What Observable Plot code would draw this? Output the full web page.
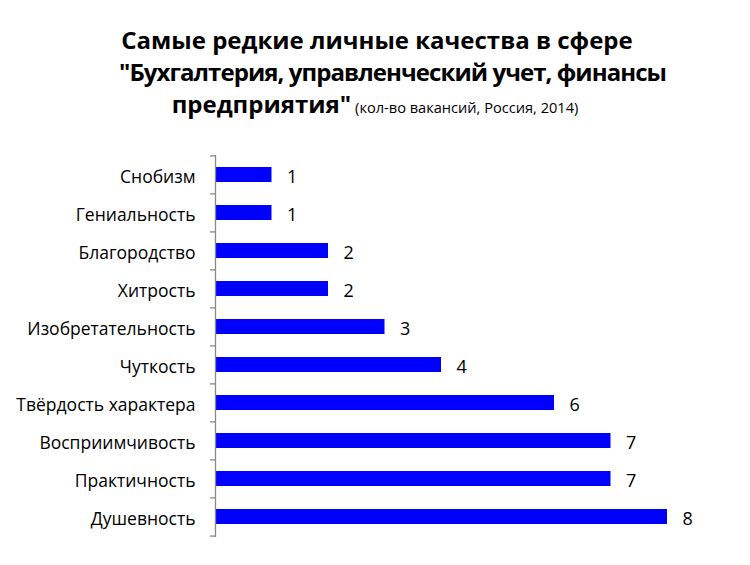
<!DOCTYPE html>
<html><head><meta charset="utf-8">
<script src="https://cdn.jsdelivr.net/npm/d3@7"></script>
<script src="https://cdn.jsdelivr.net/npm/@observablehq/plot@0.6"></script>
<style>
body{margin:0;background:#fff;}
#wrap{width:750px;height:565px;position:relative;}
#title{position:absolute;left:0;top:0;}
#chart{position:absolute;left:0;top:140px;}
</style></head>
<body>
<div id="wrap">
<svg id="title" width="750" height="140" font-family="Open Sans, sans-serif" fill="#000">
  <text x="377" y="49" text-anchor="middle" font-weight="bold" font-size="24">Самые редкие личные качества в сфере</text>
  <text x="393" y="81" text-anchor="middle" font-weight="bold" font-size="24" textLength="548" lengthAdjust="spacing">"Бухгалтерия, управленческий учет, финансы</text>
  <text x="375" y="113" text-anchor="middle"><tspan font-weight="bold" font-size="24">предприятия"</tspan><tspan font-size="14.6" dx="4">(кол-во вакансий, Россия, 2014)</tspan></text>
</svg>
<div id="chart"></div>
</div>
<script>
const categories = ["Снобизм","Гениальность","Благородство","Хитрость","Изобретательность","Чуткость","Твёрдость характера","Восприимчивость","Практичность","Душевность"];
const values = [1,1,2,2,3,4,6,7,7,8];
const xDomain = [0, 8];

const data = categories.map((name, i) => ({name, value: values[i]}));

const W = 750, H = 425, mt = 15, mb = 28, ml = 215, mr = 83;
const step = (H - mt - mb) / categories.length;
const pxPerUnit = (W - ml - mr) / (xDomain[1] - xDomain[0]);
const tickLen = 5 / pxPerUnit;

const chart = Plot.plot({
  width: W, height: H,
  marginTop: mt, marginBottom: mb, marginLeft: ml, marginRight: mr,
  style: {fontFamily: "Open Sans, sans-serif", fontSize: "17.5px", color: "#000", background: "#fff"},
  x: {domain: xDomain, axis: null},
  y: {domain: categories, paddingInner: 0.6, paddingOuter: 0.3, label: null, axis: null},
  marks: [
    Plot.axisY({tickSize: 0, tickPadding: 20, dy: 2, label: null, fontSize: 17.5}),
    Plot.barX(data, {y: "name", x: "value", fill: "#0000ff"}),
    Plot.text(data, {y: "name", x: "value", text: d => String(d.value), textAnchor: "start", dx: 15, dy: 2, fontSize: 18, fill: "#000"}),
    Plot.ruleX([0], {stroke: "#888", strokeWidth: 1.3}),
    Plot.ruleY(categories, {y: d => d, x1: -tickLen, x2: 0, dy: -step / 2, stroke: "#888", strokeWidth: 1.3}),
    Plot.ruleY(categories.slice(-1), {y: d => d, x1: -tickLen, x2: 0, dy: step / 2, stroke: "#888", strokeWidth: 1.3})
  ]
});
document.getElementById("chart").appendChild(chart);
</script>
</body></html>
